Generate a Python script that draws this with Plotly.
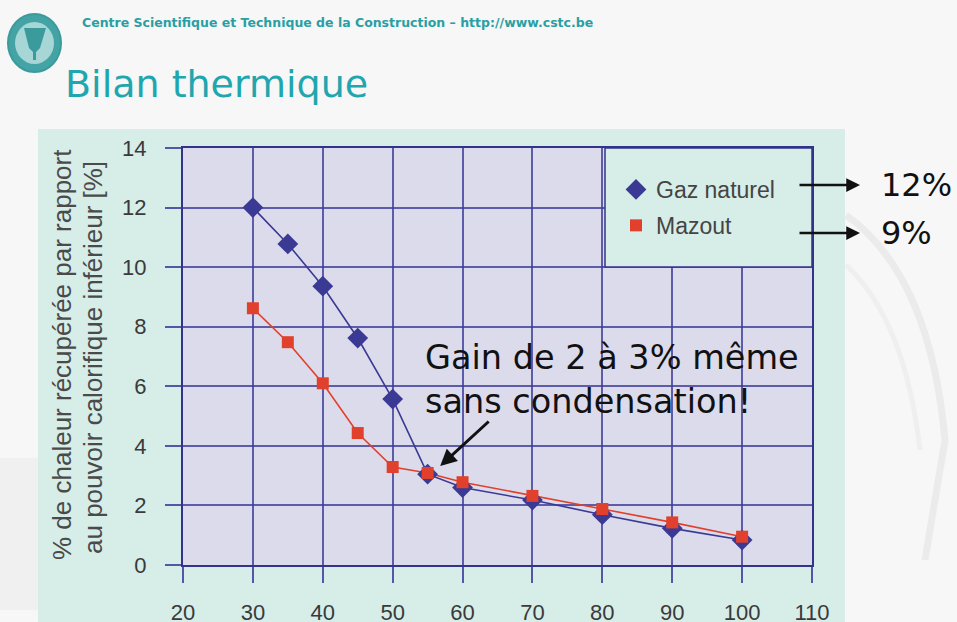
import plotly.graph_objects as go

# Température des fumées / retour (°C) et chaleur récupérée (%)
temperatures = [30, 35, 40, 45, 50, 55, 60, 70, 80, 90, 100]
gaz_naturel = [12.0, 10.78, 9.36, 7.62, 5.57, 3.05, 2.6, 2.18, 1.69, 1.23, 0.84]
mazout = [8.62, 7.48, 6.1, 4.43, 3.29, 3.09, 2.78, 2.32, 1.88, 1.43, 0.95]

x_ticks = [20, 30, 40, 50, 60, 70, 80, 90, 100, 110]
y_ticks = [0, 2, 4, 6, 8, 10, 12, 14]

W, H = 957, 622
L, R, T, B = 183, 145, 148, 57
PW, PH = W - L - R, H - T - B


def px(x):
    """page pixel column -> paper x"""
    return (x - L) / PW


def py(y):
    """page pixel row -> paper y"""
    return (H - B - y) / PH


NAVY = "#33338c"
GRID = "rgba(60,60,155,0.8)"
TEAL_PANEL = "#d6ede8"
PLOT_BG = "#dcdbeb"
BLUE = "#3a3a94"
RED = "#e0402c"
TEAL_TEXT = "#1fa6ae"

fig = go.Figure()

# connecting lines (kept out of the legend, which shows markers only)
fig.add_trace(go.Scatter(
    x=temperatures, y=gaz_naturel, mode="lines", showlegend=False,
    hoverinfo="skip", line=dict(color=BLUE, width=1.6),
))
fig.add_trace(go.Scatter(
    x=temperatures, y=mazout, mode="lines", showlegend=False,
    hoverinfo="skip", line=dict(color=RED, width=1.6),
))
fig.add_trace(go.Scatter(
    x=temperatures, y=gaz_naturel, name="Gaz naturel", legendgroup="g",
    mode="markers",
    marker=dict(symbol="diamond", size=16, color=BLUE),
))
fig.add_trace(go.Scatter(
    x=temperatures, y=mazout, name="Mazout", legendgroup="m",
    mode="markers",
    marker=dict(symbol="square", size=12, color=RED),
))


def pth(points):
    return "M " + " L ".join(f"{px(a)},{py(b)}" for a, b in points)


shapes = [
    # faint building outline in the page background
    dict(type="path", xref="paper", yref="paper", layer="below",
         path=(f"M {px(846)},{py(215)} Q {px(930)},{py(275)} {px(945)},{py(440)} "
               f"L {px(925)},{py(560)}"),
         line=dict(color="#ebebeb", width=7)),
    dict(type="path", xref="paper", yref="paper", layer="below",
         path=f"M {px(846)},{py(265)} Q {px(905)},{py(320)} {px(920)},{py(450)}",
         line=dict(color="#efefef", width=5)),
    dict(type="rect", xref="paper", yref="paper", layer="below",
         x0=px(0), x1=px(40), y0=py(610), y1=py(458),
         line=dict(width=0), fillcolor="#f0f0f0"),
    # teal chart panel
    dict(type="rect", xref="paper", yref="paper", layer="below",
         x0=px(38), x1=px(845), y0=py(640), y1=py(129),
         line=dict(width=0), fillcolor=TEAL_PANEL),
    # plot area
    dict(type="rect", xref="paper", yref="paper", layer="below",
         x0=0, x1=1, y0=0, y1=1,
         line=dict(width=0), fillcolor=PLOT_BG),
    # legend box
    dict(type="rect", xref="paper", yref="paper", layer="above",
         x0=px(605), x1=1, y0=py(267), y1=1,
         line=dict(color=NAVY, width=1.5), fillcolor=TEAL_PANEL),
    # logo
    dict(type="circle", xref="paper", yref="paper", layer="above",
         x0=px(8), x1=px(61), y0=py(72), y1=py(14),
         line=dict(color="#3b9a9c", width=2), fillcolor="#43a3a5"),
    dict(type="circle", xref="paper", yref="paper", layer="above",
         x0=px(15), x1=px(54), y0=py(64), y1=py(22),
         line=dict(width=0), fillcolor="#a6d6d5"),
    dict(type="path", xref="paper", yref="paper", layer="above",
         path=pth([(24, 28), (46, 28), (40, 48), (36, 52), (36, 60),
                   (33, 60), (33, 52), (29, 48)]) + " Z",
         line=dict(width=0), fillcolor="#3b9a9c"),
]

ytitle_font = dict(family="Liberation Sans", size=26, color="#4a4a4a")

annotations = [
    dict(xref="paper", yref="paper", x=px(80), y=py(22), xanchor="left",
         yanchor="middle", showarrow=False,
         text="Centre Scientifique et Technique de la Construction – http://www.cstc.be",
         font=dict(family="DejaVu Sans", size=12.5, color="#2a9fa3", weight="bold")),
    dict(xref="paper", yref="paper", x=px(63), y=py(84), xanchor="left",
         yanchor="middle", showarrow=False, text="Bilan thermique",
         font=dict(family="DejaVu Sans", size=38, color=TEAL_TEXT)),
    # y axis title, two lines
    dict(xref="paper", yref="paper", x=px(62), y=py(355), xanchor="center",
         yanchor="middle", showarrow=False, textangle=-90,
         text="% de chaleur récupérée par rapport", font=ytitle_font),
    dict(xref="paper", yref="paper", x=px(93), y=py(358), xanchor="center",
         yanchor="middle", showarrow=False, textangle=-90,
         text="au pouvoir calorifique inférieur [%]", font=ytitle_font),
    # callout
    dict(xref="paper", yref="paper", x=px(423), y=py(379), xanchor="left",
         yanchor="middle", showarrow=False, align="left",
         text="Gain de 2 à 3% même<br>sans condensation!",
         font=dict(family="DejaVu Sans", size=33.5, color="#111111")),
    dict(xref="x", yref="y", x=56.8, y=3.32, ax=50, ay=-46, text="",
         showarrow=True, arrowhead=2, arrowsize=1.1, arrowwidth=3,
         arrowcolor="#111111", standoff=0),
    # legend-to-value arrows
    dict(xref="paper", yref="paper", x=px(860), y=py(185), ax=-62, ay=0,
         text="", showarrow=True, arrowhead=2, arrowsize=1.1, arrowwidth=2.5,
         arrowcolor="#111111", standoff=0),
    dict(xref="paper", yref="paper", x=px(860), y=py(233), ax=-62, ay=0,
         text="", showarrow=True, arrowhead=2, arrowsize=1.1, arrowwidth=2.5,
         arrowcolor="#111111", standoff=0),
    dict(xref="paper", yref="paper", x=px(879), y=py(185), xanchor="left",
         yanchor="middle", showarrow=False, text="12%",
         font=dict(family="DejaVu Sans", size=32, color="#111111")),
    dict(xref="paper", yref="paper", x=px(879), y=py(233), xanchor="left",
         yanchor="middle", showarrow=False, text="9%",
         font=dict(family="DejaVu Sans", size=32, color="#111111")),
]

axis_common = dict(
    automargin=False,
    showgrid=True, gridcolor=GRID, gridwidth=1.5,
    showline=True, linecolor=NAVY, linewidth=2, mirror=True,
    ticks="outside", ticklen=16, tickwidth=1.5, tickcolor="rgba(60,60,155,0.85)",
    zeroline=False,
    tickfont=dict(family="Liberation Sans", size=22, color="#3a3a3a"),
)

fig.update_layout(
    width=W, height=H, autosize=False,
    margin=dict(l=L, r=R, t=T, b=B),
    paper_bgcolor="#f7f7f7",
    plot_bgcolor="rgba(0,0,0,0)",
    xaxis=dict(range=[20, 110], tickvals=x_ticks, ticklabelstandoff=11,
               **axis_common),
    yaxis=dict(range=[0, 14], tickvals=y_ticks, ticklabelstandoff=14,
               **axis_common),
    legend=dict(
        x=px(616), y=py(168), xanchor="left", yanchor="top",
        bgcolor="rgba(0,0,0,0)", borderwidth=0,
        font=dict(family="Liberation Sans", size=23, color="#444444"),
        traceorder="grouped", tracegroupgap=3,
    ),
    shapes=shapes,
    annotations=annotations,
)

fig.write_html("out.html")
